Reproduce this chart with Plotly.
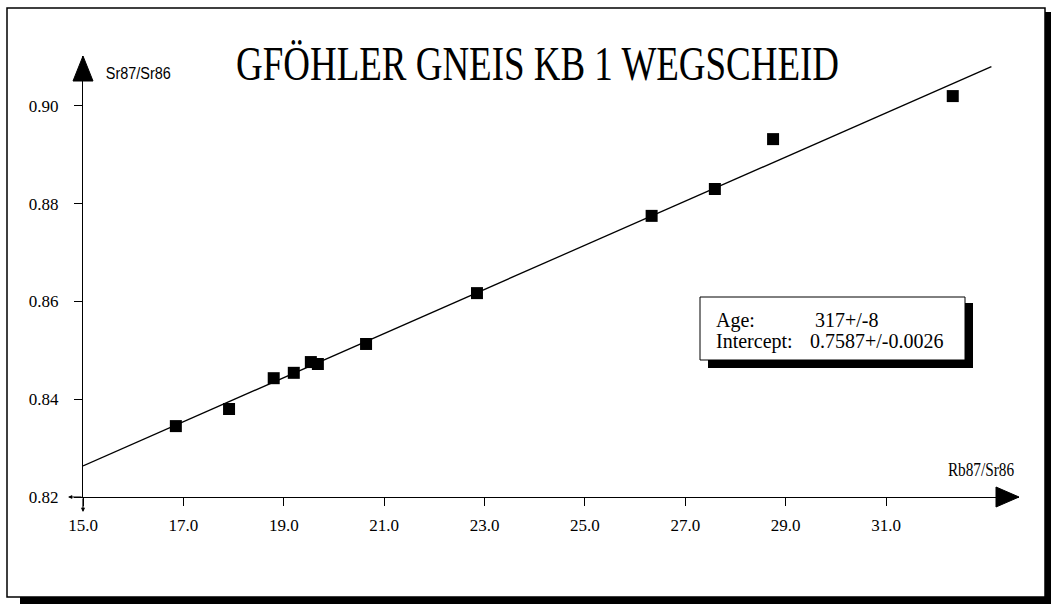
import numpy as np
import plotly.graph_objects as go

# Whole-rock Rb-Sr isochron, Gföhler Gneis KB 1 Wegscheid
rb87_sr86 = [16.85, 17.91, 18.80, 19.20, 19.54, 19.68, 20.64, 22.85, 26.33, 27.59, 28.75, 32.33]
sr87_sr86 = [0.8345, 0.8380, 0.8443, 0.8454, 0.8476, 0.8472, 0.8513, 0.8617, 0.8775, 0.8830, 0.8932, 0.9020]

age_ma = 317
age_err = 8
intercept = 0.7587
intercept_err = 0.0026
lambda_rb87 = 1.42e-11  # decay constant of 87Rb, 1/yr

# extent of the isochron along the x axis
line_x = [15.0, 33.1]

x_ticks = [15.0, 17.0, 19.0, 21.0, 23.0, 25.0, 27.0, 29.0, 31.0]
y_ticks = [0.82, 0.84, 0.86, 0.88, 0.90]

title_text = "GFÖHLER GNEIS KB 1 WEGSCHEID"
x_label = "Rb87/Sr86"
y_label = "Sr87/Sr86"

# isochron slope from the age: exp(lambda * t) - 1
slope = float(np.expm1(lambda_rb87 * age_ma * 1e6))
line_y = [intercept + slope * x for x in line_x]

# page geometry
W, H = 1051, 604
L, R, T, B = 83, 32, 56, 107
PW, PH = W - L - R, H - T - B


def px(xp):
    return (xp - L) / PW


def py(yp):
    return (H - B - yp) / PH


serif = "Liberation Serif, Times New Roman, serif"
narrow = "Liberation Sans Narrow, Liberation Sans, Arial, sans-serif"

fig = go.Figure()

fig.add_trace(go.Scatter(
    x=line_x, y=line_y, mode="lines",
    line=dict(color="black", width=1.3),
    hoverinfo="skip", showlegend=False,
))
fig.add_trace(go.Scatter(
    x=rb87_sr86, y=sr87_sr86, mode="markers",
    marker=dict(symbol="square", size=12, color="black", line=dict(width=0)),
    showlegend=False,
))

shapes = [
    # drop shadow of the outer frame
    dict(type="rect", xref="paper", yref="paper", x0=px(1045), x1=px(1051), y0=py(604), y1=py(12),
         fillcolor="black", line=dict(width=0)),
    dict(type="rect", xref="paper", yref="paper", x0=px(20), x1=px(1051), y0=py(604), y1=py(597),
         fillcolor="black", line=dict(width=0)),
    # outer frame
    dict(type="rect", xref="paper", yref="paper", x0=px(7), x1=px(1045), y0=py(597), y1=py(8),
         line=dict(color="black", width=1.5), fillcolor="rgba(0,0,0,0)"),
    # result box with shadow
    dict(type="rect", xref="paper", yref="paper", x0=px(708), x1=px(973), y0=py(368), y1=py(303),
         fillcolor="black", line=dict(width=0)),
    dict(type="rect", xref="paper", yref="paper", x0=px(700), x1=px(965), y0=py(360), y1=py(297),
         fillcolor="white", line=dict(color="black", width=1)),
    # arrowheads on the axes
    dict(type="path", xref="paper", yref="paper", xsizemode="pixel", ysizemode="pixel",
         xanchor=1, yanchor=0, path="M-23,-10 L0,0 L-23,10 Z",
         fillcolor="black", line=dict(color="black", width=1)),
    dict(type="path", xref="paper", yref="paper", xsizemode="pixel", ysizemode="pixel",
         xanchor=0, yanchor=1, path="M-10,-25 L0,0 L10,-25 Z",
         fillcolor="black", line=dict(color="black", width=1)),
]

annotations = [
    dict(text=title_text, x=px(537), y=py(64), xref="paper", yref="paper",
         xanchor="center", yanchor="middle", showarrow=False,
         font=dict(family=serif, size=48, color="black")),
    dict(text=y_label, x=px(98), y=py(73), xref="paper", yref="paper",
         xanchor="left", yanchor="middle", showarrow=False,
         font=dict(family=narrow, size=17, color="black")),
    dict(text=x_label, x=px(1022), y=py(470), xref="paper", yref="paper",
         xanchor="right", yanchor="middle", showarrow=False,
         font=dict(family=serif, size=18, color="black")),
    dict(text="Age:", x=px(714), y=py(320), xref="paper", yref="paper",
         xanchor="left", yanchor="middle", showarrow=False,
         font=dict(family=serif, size=20, color="black")),
    dict(text=f"{age_ma}+/-{age_err}", x=px(813), y=py(320), xref="paper", yref="paper",
         xanchor="left", yanchor="middle", showarrow=False,
         font=dict(family=serif, size=20, color="black")),
    dict(text="Intercept:", x=px(714), y=py(341), xref="paper", yref="paper",
         xanchor="left", yanchor="middle", showarrow=False,
         font=dict(family=serif, size=20, color="black")),
    dict(text=f"{intercept:.4f}+/-{intercept_err:.4f}", x=px(808), y=py(341), xref="paper", yref="paper",
         xanchor="left", yanchor="middle", showarrow=False,
         font=dict(family=serif, size=20, color="black")),
    # small arrows at the origin
    dict(text="", x=px(68), y=py(497), xref="paper", yref="paper", ax=15, ay=0,
         showarrow=True, arrowhead=2, arrowsize=0.7, arrowwidth=1.2, arrowcolor="black"),
    dict(text="", x=px(83), y=py(512), xref="paper", yref="paper", ax=0, ay=-15,
         showarrow=True, arrowhead=2, arrowsize=0.7, arrowwidth=1.2, arrowcolor="black"),
]

fig.update_layout(
    width=W, height=H,
    margin=dict(l=L, r=R, t=T, b=B, pad=0),
    paper_bgcolor="white", plot_bgcolor="white",
    showlegend=False,
    shapes=shapes,
    annotations=annotations,
    xaxis=dict(
        range=[15.0, 33.65], showgrid=False, zeroline=False,
        showline=True, linecolor="black", linewidth=1.3,
        ticks="outside", ticklen=8, tickwidth=1, tickcolor="black",
        tickvals=x_ticks, ticktext=[f"{v:.1f}" for v in x_ticks],
        tickfont=dict(family=serif, size=17, color="black"),
        ticklabelstandoff=4,
    ),
    yaxis=dict(
        range=[0.82, 0.9102], showgrid=False, zeroline=False,
        showline=True, linecolor="black", linewidth=1.3,
        ticks="outside", ticklen=8, tickwidth=1, tickcolor="black",
        tickvals=y_ticks, ticktext=[f"{v:.2f}" for v in y_ticks],
        tickfont=dict(family=serif, size=17, color="black"),
        ticklabelstandoff=12,
    ),
)

# narrow the lettering of the annotations horizontally
post = """
function squeeze(sel, s) {
  document.querySelectorAll(sel).forEach(function (el) {
    el.style.transformBox = 'fill-box';
    el.style.transformOrigin = 'center';
    el.style.transform = 'scaleX(' + s + ')';
  });
}
squeeze('g.annotation[data-index="0"] text', 0.77);
squeeze('g.annotation[data-index="1"] text', 0.85);
squeeze('g.annotation[data-index="2"] text', 0.85);
"""

fig.write_html("out.html", post_script=post)
